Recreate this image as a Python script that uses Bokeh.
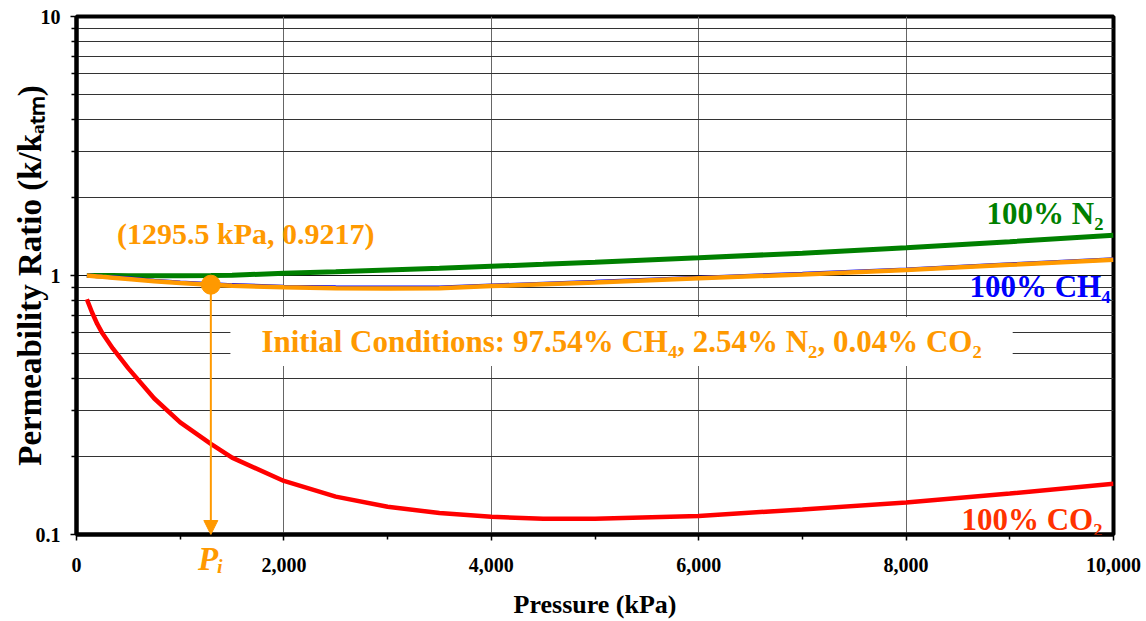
from bokeh.plotting import figure
from bokeh.models import (Label, Arrow, NormalHead, FixedTicker, NumeralTickFormatter,
                          BasicTickFormatter, Range1d, LinearAxis)
from bokeh.embed import file_html
from bokeh.resources import INLINE

# ---------------- data ----------------
pressure = [100, 150, 200, 250, 350, 500, 750, 1000, 1295.5, 1500, 2000, 2500, 3000, 3500,
            4000, 4500, 5000, 6000, 7000, 8000, 9000, 10000]
n2 = [1.0, 1.0, 0.999, 0.999, 0.999, 0.998, 0.998, 0.998, 1.0, 1.002, 1.02, 1.033, 1.05,
      1.066, 1.085, 1.104, 1.125, 1.17, 1.22, 1.28, 1.35, 1.43]
ch4 = [1.0, 0.997, 0.994, 0.99, 0.984, 0.975, 0.955, 0.94, 0.927, 0.918, 0.905, 0.90, 0.898,
       0.898, 0.915, 0.93, 0.945, 0.98, 1.015, 1.055, 1.105, 1.155]
mix = [1.0, 0.996, 0.992, 0.988, 0.981, 0.97, 0.95, 0.935, 0.9217, 0.912, 0.90, 0.893, 0.89,
       0.892, 0.91, 0.925, 0.94, 0.975, 1.01, 1.05, 1.10, 1.15]
co2 = [0.81, 0.72, 0.65, 0.598, 0.523, 0.438, 0.335, 0.271, 0.224, 0.198, 0.161, 0.14, 0.128,
       0.121, 0.117, 0.115, 0.115, 0.118, 0.125, 0.133, 0.144, 0.157]

pi_x = 1295.5
pi_y = 0.9217
pi_label = "P\u1d62"

y_ticks = [0.1, 1, 10]
y_tick_labels = ["0.1", "1", "10"]
y_minor = [0.2, 0.3, 0.4, 0.5, 0.6, 0.7, 0.8, 0.9, 2, 3, 4, 5, 6, 7, 8, 9]
x_ticks = [0, 2000, 4000, 6000, 8000, 10000]
x_minor = [1000, 3000, 5000, 7000, 9000]

ORANGE = "#FF9900"
FONT = "Liberation Serif"

p = figure(width=1146, height=621, y_axis_type="log",
           x_range=Range1d(0, 10000), y_range=Range1d(0.1, 10),
           output_backend="svg", toolbar_location=None,
           min_border_left=76, min_border_right=33, min_border_top=16, min_border_bottom=87)

p.outline_line_color = "black"
p.outline_line_width = 4
p.background_fill_color = "white"
p.border_fill_color = "white"

# axes
p.xaxis.ticker = FixedTicker(ticks=x_ticks, minor_ticks=x_minor)
p.xaxis.formatter = NumeralTickFormatter(format="0,0")
p.yaxis.ticker = FixedTicker(ticks=y_ticks, minor_ticks=y_minor)
p.yaxis.formatter = BasicTickFormatter()
p.yaxis.major_label_overrides = {t: l for t, l in zip(y_ticks, y_tick_labels)}

for ax in (p.xaxis[0], p.yaxis[0]):
    ax.axis_line_color = "black"
    ax.axis_line_width = 4
    ax.major_tick_in = 0
    ax.major_tick_out = 6
    ax.minor_tick_in = 0
    ax.minor_tick_out = 5
    ax.major_tick_line_color = "black"
    ax.minor_tick_line_color = "black"
    ax.major_tick_line_width = 1.5
    ax.minor_tick_line_width = 1.5
    ax.major_label_text_font = FONT
    ax.major_label_text_font_style = "bold"
    ax.major_label_text_font_size = "20px"
    ax.major_label_text_color = "black"
    ax.axis_label_text_font = FONT
    ax.axis_label_text_font_style = "bold"
    ax.axis_label_text_color = "black"

p.xaxis.major_label_standoff = 17
p.yaxis.major_label_standoff = 10
p.yaxis.axis_label = "Permeability Ratio (k/k\u2090\u209c\u2098)"
p.yaxis.axis_label_text_font_size = "33px"
p.yaxis.axis_label_standoff = -15

# second bottom axis: carries the P_i marker label and the axis title
pi_axis = LinearAxis(ticker=FixedTicker(ticks=[pi_x], minor_ticks=[]),
                     major_label_overrides={pi_x: pi_label},
                     axis_line_color=None, major_tick_line_color=None,
                     minor_tick_line_color=None, major_tick_out=0, major_tick_in=0,
                     major_label_text_font=FONT, major_label_text_font_style="bold italic",
                     major_label_text_font_size="33px", major_label_text_color=ORANGE,
                     major_label_standoff=-34,
                     axis_label="Pressure (kPa)", axis_label_text_font=FONT,
                     axis_label_text_font_style="bold", axis_label_text_font_size="26px",
                     axis_label_text_color="black", axis_label_standoff=10)
p.add_layout(pi_axis, "below")

# grids
p.xgrid.grid_line_color = "#666666"
p.xgrid.grid_line_width = 1
p.ygrid.grid_line_color = "#111111"
p.ygrid.grid_line_width = 1
p.ygrid.minor_grid_line_color = "#333333"
p.ygrid.minor_grid_line_width = 1

# curves
p.line(pressure, co2, line_color="#FF0000", line_width=4.5)
p.line(pressure, n2, line_color="#008000", line_width=5)
p.line(pressure, ch4, line_color="#0000FF", line_width=4)
p.line(pressure, mix, line_color=ORANGE, line_width=4.5)

# initial point and arrow
p.add_layout(Arrow(end=NormalHead(size=14, fill_color=ORANGE, line_color=ORANGE),
                   x_start=pi_x, y_start=pi_y, x_end=pi_x, y_end=y_ticks[0],
                   line_color=ORANGE, line_width=2))
p.scatter([pi_x], [pi_y], size=19, fill_color=ORANGE, line_color=ORANGE)

def lab(text, x, y, color, size, xo=0, yo=0, align="center", style="bold", **kw):
    l = Label(x=x, y=y, x_offset=xo, y_offset=yo, text=text, text_color=color,
              text_font=FONT, text_font_style=style, text_font_size=size,
              text_align=align, text_baseline="middle", **kw)
    p.add_layout(l)
    return l

lab(f"({pi_x} kPa, {pi_y})", pi_x, pi_y, ORANGE, "30px", xo=35, yo=51)

lab("100% N\u2082", pressure[-1], n2[-1], "#008000", "31px", xo=-10, yo=22, align="right")
lab("100% CH\u2084", pressure[-1], ch4[-1], "#0000FF", "31px", xo=-3, yo=-27, align="right")
lab("100% CO\u2082", pressure[-1], co2[-1], "#FF3300", "31px", xo=-11, yo=-36, align="right")

lab("Initial Conditions: 97.54% CH\u2084, 2.54% N\u2082, 0.04% CO\u2082", 5256, 0.556,
    ORANGE, "31px", background_fill_color="white", padding=(31, 7))

open("out.html", "w").write(file_html(p, INLINE))
